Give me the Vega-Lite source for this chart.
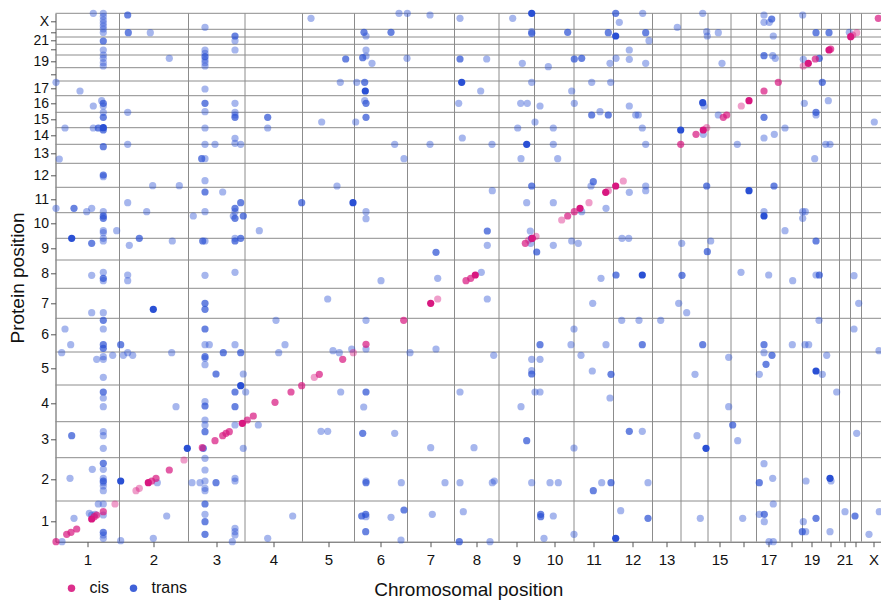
{
"$schema": "https://vega.github.io/schema/vega-lite/v6.json",
"width": 825.5,
"height": 528.4,
"autosize": {"type": "none"},
"padding": {"left": 55.5, "top": 13.3, "right": 0, "bottom": 58.3},
"config": {
  "font": "Liberation Sans",
  "view": {"stroke": null},
  "axis": {"grid": false, "domainColor": "#555", "tickColor": "#555", "tickSize": 5, "labelFontSize": 15, "labelColor": "#111", "titleFontSize": 19, "titleFontWeight": "normal", "titleColor": "#111", "labelOverlap": false, "labelFlush": false, "labelBound": false}
},
"datasets": {
  "xbounds": [{"snp":64},{"snp":133},{"snp":189.5},{"snp":247},{"snp":299},{"snp":352},{"snp":399},{"snp":443.5},{"snp":479},{"snp":518.5},{"snp":558},{"snp":597},{"snp":625.5},{"snp":652.5},{"snp":675.5},{"snp":701},{"snp":724.5},{"snp":747},{"snp":766},{"snp":784},{"snp":795},{"snp":806}],
  "ybounds": [{"prot":40.7},{"prot":84},{"prot":120},{"prot":156.7},{"prot":189.7},{"prot":223.4},{"prot":253.4},{"prot":281.7},{"prot":303.4},{"prot":329},{"prot":354.4},{"prot":378.4},{"prot":397.4},{"prot":414},{"prot":429.4},{"prot":446},{"prot":460.7},{"prot":474},{"prot":486.7},{"prot":497.4},{"prot":504.7},{"prot":512.4},{"prot":528.4}],
  "qtl": [
{"snp":37.8,"prot":528.4,"type":"trans","lod":1},{"snp":47.8,"prot":528.4,"type":"trans","lod":1},{"snp":47.8,"prot":525.2,"type":"trans","lod":1},{"snp":47.8,"prot":521.7,"type":"trans","lod":1},{"snp":47.8,"prot":518.7,"type":"trans","lod":1},{"snp":47.8,"prot":515.7,"type":"trans","lod":1},{"snp":47.8,"prot":512.7,"type":"trans","lod":1},{"snp":47.8,"prot":509.2,"type":"trans","lod":1},{"snp":47.8,"prot":500.7,"type":"trans","lod":2},{"snp":47.8,"prot":491.7,"type":"trans","lod":1},{"snp":47.8,"prot":486.7,"type":"trans","lod":1},{"snp":47.8,"prot":483.4,"type":"trans","lod":1},{"snp":47.8,"prot":479,"type":"trans","lod":1},{"snp":47.8,"prot":475.7,"type":"trans","lod":1},
{"snp":72.2,"prot":526.7,"type":"trans","lod":2},{"snp":72.8,"prot":509,"type":"trans","lod":2},{"snp":94.8,"prot":509,"type":"trans","lod":1},{"snp":113.8,"prot":483.4,"type":"trans","lod":1},{"snp":149.5,"prot":514.4,"type":"trans","lod":1},
{"snp":149.5,"prot":491.7,"type":"trans","lod":1},{"snp":149.5,"prot":488.4,"type":"trans","lod":1},{"snp":149.5,"prot":485,"type":"trans","lod":2},{"snp":149.5,"prot":481.7,"type":"trans","lod":1},{"snp":149.5,"prot":479,"type":"trans","lod":1},{"snp":149.5,"prot":475.7,"type":"trans","lod":1},
{"snp":179.5,"prot":505.7,"type":"trans","lod":2},{"snp":179.5,"prot":501,"type":"trans","lod":1},{"snp":179.5,"prot":491.7,"type":"trans","lod":1},
{"snp":0.5,"prot":459.4,"type":"trans","lod":1},{"snp":24.5,"prot":450.7,"type":"trans","lod":1},{"snp":37.8,"prot":435.7,"type":"trans","lod":1},{"snp":46.2,"prot":441,"type":"trans","lod":1},
{"snp":47.8,"prot":438.4,"type":"trans","lod":2},{"snp":47.8,"prot":435.7,"type":"trans","lod":1},{"snp":47.8,"prot":429.4,"type":"trans","lod":1},{"snp":47.8,"prot":424.4,"type":"trans","lod":2},{"snp":47.8,"prot":414,"type":"trans","lod":3},{"snp":47.8,"prot":411.7,"type":"trans","lod":2},{"snp":47.8,"prot":395,"type":"trans","lod":2},{"snp":47.8,"prot":366.7,"type":"trans","lod":2},{"snp":47.8,"prot":365,"type":"trans","lod":1},
{"snp":9.5,"prot":413.7,"type":"trans","lod":1},{"snp":37.8,"prot":413.7,"type":"trans","lod":1},{"snp":42.8,"prot":413.7,"type":"trans","lod":2},{"snp":72.2,"prot":429.4,"type":"trans","lod":1},{"snp":72.2,"prot":397.4,"type":"trans","lod":1},
{"snp":149.5,"prot":452.7,"type":"trans","lod":1},{"snp":149.5,"prot":438.4,"type":"trans","lod":2},{"snp":149.5,"prot":430,"type":"trans","lod":1},{"snp":149.5,"prot":413.7,"type":"trans","lod":1},{"snp":149.5,"prot":397.4,"type":"trans","lod":1},{"snp":159.5,"prot":397.4,"type":"trans","lod":1},{"snp":146.2,"prot":383,"type":"trans","lod":2},{"snp":149.5,"prot":383,"type":"trans","lod":1},{"snp":149.5,"prot":361,"type":"trans","lod":1},{"snp":149.5,"prot":349.7,"type":"trans","lod":2},{"snp":167.2,"prot":349.7,"type":"trans","lod":1},
{"snp":179.5,"prot":438.4,"type":"trans","lod":1},{"snp":179.5,"prot":429.4,"type":"trans","lod":1},{"snp":179.5,"prot":426.7,"type":"trans","lod":1},{"snp":179.5,"prot":424.4,"type":"trans","lod":2},{"snp":179.5,"prot":403.4,"type":"trans","lod":1},{"snp":179.5,"prot":398.4,"type":"trans","lod":1},{"snp":185.2,"prot":397.4,"type":"trans","lod":1},
{"snp":212.2,"prot":424.4,"type":"trans","lod":2},{"snp":212.2,"prot":413.7,"type":"trans","lod":1},{"snp":3.8,"prot":382.7,"type":"trans","lod":1},{"snp":97.2,"prot":356,"type":"trans","lod":1},{"snp":123.8,"prot":356,"type":"trans","lod":1},
{"snp":255.5,"prot":523.4,"type":"trans","lod":1},{"snp":308.5,"prot":509.4,"type":"trans","lod":2},{"snp":310.5,"prot":505.7,"type":"trans","lod":1},{"snp":335.5,"prot":509.4,"type":"trans","lod":2},{"snp":310.5,"prot":491.7,"type":"trans","lod":1},{"snp":307.2,"prot":484,"type":"trans","lod":2},{"snp":310.5,"prot":485.7,"type":"trans","lod":1},{"snp":316.5,"prot":478.4,"type":"trans","lod":1},{"snp":290.2,"prot":482.7,"type":"trans","lod":2},{"snp":343.5,"prot":528.4,"type":"trans","lod":1},{"snp":351.8,"prot":528.4,"type":"trans","lod":1},{"snp":374.5,"prot":526.7,"type":"trans","lod":1},{"snp":351.5,"prot":483.4,"type":"trans","lod":1},{"snp":284.8,"prot":459.4,"type":"trans","lod":1},{"snp":301.2,"prot":459.4,"type":"trans","lod":1},{"snp":309.2,"prot":459.4,"type":"trans","lod":2},{"snp":309.8,"prot":450.7,"type":"trans","lod":3},{"snp":309.2,"prot":441,"type":"trans","lod":1},{"snp":310.5,"prot":438.4,"type":"trans","lod":2},{"snp":310.5,"prot":424.4,"type":"trans","lod":2},{"snp":266.2,"prot":419.7,"type":"trans","lod":1},{"snp":300.2,"prot":419.7,"type":"trans","lod":1},{"snp":339.2,"prot":397.4,"type":"trans","lod":1},{"snp":374.5,"prot":397.4,"type":"trans","lod":1},{"snp":348.5,"prot":383,"type":"trans","lod":1},{"snp":404.5,"prot":523.4,"type":"trans","lod":1},{"snp":404.5,"prot":482.7,"type":"trans","lod":2},{"snp":406.2,"prot":459.4,"type":"trans","lod":3},{"snp":425.2,"prot":450.7,"type":"trans","lod":1},{"snp":403.2,"prot":438.4,"type":"trans","lod":1},{"snp":406.8,"prot":403.7,"type":"trans","lod":1},{"snp":436.5,"prot":397.4,"type":"trans","lod":1},{"snp":431.2,"prot":482.7,"type":"trans","lod":1},{"snp":457.2,"prot":523.4,"type":"trans","lod":1},{"snp":476.2,"prot":528.4,"type":"trans","lod":3},{"snp":476.2,"prot":510,"type":"trans","lod":1},{"snp":476.2,"prot":508.4,"type":"trans","lod":2},{"snp":512.2,"prot":509.4,"type":"trans","lod":2},{"snp":466.8,"prot":478.4,"type":"trans","lod":1},{"snp":492.8,"prot":475,"type":"trans","lod":1},{"snp":518.8,"prot":482.7,"type":"trans","lod":2},{"snp":476.2,"prot":459.4,"type":"trans","lod":1},{"snp":516.2,"prot":450.7,"type":"trans","lod":1},{"snp":465.2,"prot":438.4,"type":"trans","lod":1},{"snp":471.8,"prot":438.4,"type":"trans","lod":1},{"snp":484.5,"prot":435.7,"type":"trans","lod":1},{"snp":518.8,"prot":438.4,"type":"trans","lod":1},{"snp":462.2,"prot":413.7,"type":"trans","lod":1},{"snp":479.5,"prot":419.7,"type":"trans","lod":1},{"snp":497.8,"prot":413.7,"type":"trans","lod":1},{"snp":471.2,"prot":397.4,"type":"trans","lod":3},{"snp":497.8,"prot":397.4,"type":"trans","lod":1},{"snp":465.5,"prot":383,"type":"trans","lod":1},{"snp":502.2,"prot":383,"type":"trans","lod":1},
{"snp":560.2,"prot":528.4,"type":"trans","lod":2},{"snp":587.2,"prot":528.4,"type":"trans","lod":1},{"snp":647.2,"prot":528.4,"type":"trans","lod":1},{"snp":708.5,"prot":526.7,"type":"trans","lod":1},{"snp":747.2,"prot":526.7,"type":"trans","lod":1},{"snp":563.8,"prot":519.4,"type":"trans","lod":1},{"snp":621.8,"prot":514.4,"type":"trans","lod":1},{"snp":708.5,"prot":519.4,"type":"trans","lod":1},{"snp":713.8,"prot":519.4,"type":"trans","lod":1},{"snp":716.2,"prot":522.7,"type":"trans","lod":2},{"snp":552.8,"prot":509,"type":"trans","lod":2},{"snp":560.2,"prot":505.7,"type":"trans","lod":3},{"snp":590.2,"prot":509,"type":"trans","lod":2},{"snp":593.5,"prot":501,"type":"trans","lod":1},{"snp":651.2,"prot":510,"type":"trans","lod":1},{"snp":651.8,"prot":505.7,"type":"trans","lod":1},{"snp":662.8,"prot":509,"type":"trans","lod":1},{"snp":717.8,"prot":505.7,"type":"trans","lod":1},{"snp":760.5,"prot":509,"type":"trans","lod":2},{"snp":773.5,"prot":509,"type":"trans","lod":2},{"snp":793.8,"prot":509.4,"type":"trans","lod":1},{"snp":573.8,"prot":491.7,"type":"trans","lod":1},{"snp":526.2,"prot":483.4,"type":"trans","lod":2},{"snp":554.5,"prot":478.4,"type":"trans","lod":1},{"snp":560.5,"prot":483.4,"type":"trans","lod":1},{"snp":573.8,"prot":482.4,"type":"trans","lod":1},{"snp":590.2,"prot":478.4,"type":"trans","lod":1},{"snp":666.5,"prot":478.4,"type":"trans","lod":1},{"snp":708.5,"prot":486,"type":"trans","lod":2},{"snp":717.2,"prot":486,"type":"trans","lod":1},{"snp":719.8,"prot":483.4,"type":"trans","lod":1},{"snp":747.8,"prot":482.4,"type":"trans","lod":1},{"snp":763.8,"prot":483.4,"type":"trans","lod":2},{"snp":536.2,"prot":459.4,"type":"trans","lod":1},{"snp":555.2,"prot":459.4,"type":"trans","lod":1},{"snp":766.8,"prot":459.4,"type":"trans","lod":2},{"snp":573.8,"prot":435.7,"type":"trans","lod":1},{"snp":536.2,"prot":426.7,"type":"trans","lod":2},{"snp":544.5,"prot":430,"type":"trans","lod":1},{"snp":552.8,"prot":426.7,"type":"trans","lod":2},{"snp":580.2,"prot":426.7,"type":"trans","lod":1},{"snp":582.8,"prot":426.7,"type":"trans","lod":1},{"snp":647.2,"prot":439,"type":"trans","lod":3},{"snp":648.5,"prot":435.7,"type":"trans","lod":1},{"snp":662.8,"prot":426.7,"type":"trans","lod":1},{"snp":708.5,"prot":424.4,"type":"trans","lod":2},{"snp":748.8,"prot":438.4,"type":"trans","lod":1},{"snp":760.5,"prot":429.4,"type":"trans","lod":2},{"snp":760.5,"prot":426.7,"type":"trans","lod":1},{"snp":772.8,"prot":441,"type":"trans","lod":1},{"snp":586.8,"prot":413.7,"type":"trans","lod":1},{"snp":625.2,"prot":411.7,"type":"trans","lod":3},{"snp":647.8,"prot":407.4,"type":"trans","lod":1},{"snp":708.5,"prot":403.7,"type":"trans","lod":1},{"snp":718.8,"prot":407.4,"type":"trans","lod":1},{"snp":729.5,"prot":413.7,"type":"trans","lod":1},{"snp":590.2,"prot":397.4,"type":"trans","lod":1},{"snp":681.8,"prot":397.4,"type":"trans","lod":1},{"snp":770.2,"prot":397.4,"type":"trans","lod":1},{"snp":774.5,"prot":397.4,"type":"trans","lod":1},{"snp":759.2,"prot":383,"type":"trans","lod":1},{"snp":818.8,"prot":419.7,"type":"trans","lod":1},
{"snp":537.8,"prot":360,"type":"trans","lod":2},{"snp":535.5,"prot":355.7,"type":"trans","lod":1},{"snp":573.8,"prot":349.4,"type":"trans","lod":1},{"snp":590.2,"prot":355.7,"type":"trans","lod":1},{"snp":590.2,"prot":351,"type":"trans","lod":1},{"snp":651.2,"prot":355.7,"type":"trans","lod":2},{"snp":693.5,"prot":351,"type":"trans","lod":3},{"snp":718.5,"prot":355.7,"type":"trans","lod":2},{"snp":526.2,"prot":330,"type":"trans","lod":1},{"snp":550.5,"prot":333.4,"type":"trans","lod":1},{"snp":708.5,"prot":330,"type":"trans","lod":1},{"snp":708.5,"prot":325.7,"type":"trans","lod":3},{"snp":747.2,"prot":330,"type":"trans","lod":1},{"snp":749.8,"prot":330,"type":"trans","lod":1},{"snp":747.2,"prot":323.4,"type":"trans","lod":1},{"snp":729.5,"prot":311,"type":"trans","lod":1},{"snp":566.5,"prot":303.4,"type":"trans","lod":1},{"snp":573.2,"prot":303.4,"type":"trans","lod":1},{"snp":626.2,"prot":298.4,"type":"trans","lod":1},{"snp":655.2,"prot":300.7,"type":"trans","lod":1},{"snp":651.8,"prot":290,"type":"trans","lod":2},{"snp":760.5,"prot":300.7,"type":"trans","lod":2},{"snp":545.5,"prot":263.4,"type":"trans","lod":1},{"snp":560.5,"prot":266.7,"type":"trans","lod":2},{"snp":586.8,"prot":266.7,"type":"trans","lod":3},{"snp":626.5,"prot":266.4,"type":"trans","lod":2},{"snp":685.5,"prot":269.4,"type":"trans","lod":1},{"snp":713.2,"prot":266.7,"type":"trans","lod":1},{"snp":737.2,"prot":261,"type":"trans","lod":1},{"snp":760.5,"prot":266.7,"type":"trans","lod":1},{"snp":763.8,"prot":266.7,"type":"trans","lod":2},{"snp":798.5,"prot":266,"type":"trans","lod":1},{"snp":537.2,"prot":238.4,"type":"trans","lod":1},{"snp":623.2,"prot":238.4,"type":"trans","lod":1},{"snp":631.2,"prot":229,"type":"trans","lod":1},{"snp":803.2,"prot":238.4,"type":"trans","lod":1},{"snp":566.2,"prot":221.4,"type":"trans","lod":1},{"snp":583.5,"prot":221.4,"type":"trans","lod":1},{"snp":605.2,"prot":221.4,"type":"trans","lod":1},{"snp":763.5,"prot":221.4,"type":"trans","lod":1},{"snp":798.5,"prot":212.7,"type":"trans","lod":1},{"snp":550.5,"prot":197,"type":"trans","lod":1},{"snp":586.8,"prot":197,"type":"trans","lod":2},{"snp":647.2,"prot":197,"type":"trans","lod":2},{"snp":708.5,"prot":197,"type":"trans","lod":2},{"snp":708.5,"prot":189,"type":"trans","lod":1},{"snp":736.8,"prot":197,"type":"trans","lod":1},{"snp":749.5,"prot":197,"type":"trans","lod":1},{"snp":753.2,"prot":197,"type":"trans","lod":1},{"snp":716.5,"prot":186.4,"type":"trans","lod":2},{"snp":771.2,"prot":186.4,"type":"trans","lod":1},{"snp":823.5,"prot":191,"type":"trans","lod":1},{"snp":525.5,"prot":186.4,"type":"trans","lod":1},{"snp":673.2,"prot":184.4,"type":"trans","lod":1},{"snp":536.8,"prot":170.7,"type":"trans","lod":1},{"snp":555.5,"prot":167.4,"type":"trans","lod":2},{"snp":639.5,"prot":167.4,"type":"trans","lod":1},{"snp":710.5,"prot":177.4,"type":"trans","lod":2},{"snp":703.8,"prot":167.4,"type":"trans","lod":1},{"snp":760.5,"prot":170.7,"type":"trans","lod":3},{"snp":766.8,"prot":167.4,"type":"trans","lod":1},{"snp":554.5,"prot":143.7,"type":"trans","lod":1},{"snp":781.2,"prot":149.7,"type":"trans","lod":1},{"snp":673.2,"prot":135,"type":"trans","lod":1},{"snp":573.8,"prot":110.4,"type":"trans","lod":2},{"snp":586.8,"prot":110.4,"type":"trans","lod":1},{"snp":677.2,"prot":116.7,"type":"trans","lod":2},{"snp":641.5,"prot":106,"type":"trans","lod":1},{"snp":682.2,"prot":101,"type":"trans","lod":1},{"snp":650.5,"prot":93.4,"type":"trans","lod":3},{"snp":801.2,"prot":108.4,"type":"trans","lod":1},{"snp":708.5,"prot":78,"type":"trans","lod":1},{"snp":717.2,"prot":63.4,"type":"trans","lod":1},{"snp":546.2,"prot":59,"type":"trans","lod":1},{"snp":555.5,"prot":59,"type":"trans","lod":2},{"snp":592.5,"prot":59,"type":"trans","lod":1},{"snp":703.8,"prot":59,"type":"trans","lod":2},{"snp":750.5,"prot":60.7,"type":"trans","lod":1},{"snp":774.5,"prot":63.4,"type":"trans","lod":3},{"snp":775.5,"prot":60.7,"type":"trans","lod":1},{"snp":537.8,"prot":51,"type":"trans","lod":2},
{"snp":281.5,"prot":355.7,"type":"trans","lod":1},{"snp":436.8,"prot":351,"type":"trans","lod":1},{"snp":476.2,"prot":355.7,"type":"trans","lod":2},{"snp":246.2,"prot":339,"type":"trans","lod":2},{"snp":297.5,"prot":339,"type":"trans","lod":3},{"snp":310.5,"prot":330,"type":"trans","lod":1},{"snp":310.5,"prot":323,"type":"trans","lod":1},{"snp":431.8,"prot":310.7,"type":"trans","lod":2},{"snp":471.2,"prot":339,"type":"trans","lod":1},{"snp":497.8,"prot":339,"type":"trans","lod":1},{"snp":474.8,"prot":310.7,"type":"trans","lod":1},{"snp":431.8,"prot":296.4,"type":"trans","lod":1},{"snp":497.8,"prot":296.4,"type":"trans","lod":1},{"snp":516.2,"prot":300.7,"type":"trans","lod":1},{"snp":522.8,"prot":298.4,"type":"trans","lod":1},{"snp":481.2,"prot":289.7,"type":"trans","lod":2},{"snp":380.5,"prot":289.4,"type":"trans","lod":2},{"snp":476.2,"prot":303.4,"type":"trans","lod":3},{"snp":475.2,"prot":298.4,"type":"trans","lod":1},{"snp":325.5,"prot":261,"type":"trans","lod":1},{"snp":382.2,"prot":263.4,"type":"trans","lod":1},{"snp":425.8,"prot":269.4,"type":"trans","lod":1},{"snp":272.2,"prot":242.7,"type":"trans","lod":1},{"snp":431.8,"prot":242.7,"type":"trans","lod":1},{"snp":310.5,"prot":221.4,"type":"trans","lod":1},{"snp":518.5,"prot":212.7,"type":"trans","lod":1},{"snp":277.5,"prot":191,"type":"trans","lod":1},{"snp":283.8,"prot":189,"type":"trans","lod":1},{"snp":296.2,"prot":192.7,"type":"trans","lod":1},{"snp":310.5,"prot":192.7,"type":"trans","lod":1},{"snp":354.5,"prot":189,"type":"trans","lod":1},{"snp":380.5,"prot":192.7,"type":"trans","lod":1},{"snp":438.2,"prot":186.4,"type":"trans","lod":1},{"snp":484.5,"prot":197,"type":"trans","lod":2},{"snp":484.5,"prot":182.4,"type":"trans","lod":1},{"snp":476.2,"prot":182.4,"type":"trans","lod":1},{"snp":476.2,"prot":171,"type":"trans","lod":1},{"snp":476.2,"prot":167.7,"type":"trans","lod":2},{"snp":515.5,"prot":197,"type":"trans","lod":1},{"snp":285.2,"prot":149.7,"type":"trans","lod":1},{"snp":310.5,"prot":149.7,"type":"trans","lod":2},{"snp":308.2,"prot":134.7,"type":"trans","lod":1},{"snp":404.5,"prot":149.7,"type":"trans","lod":1},{"snp":479.5,"prot":149.7,"type":"trans","lod":1},{"snp":484.5,"prot":149.7,"type":"trans","lod":1},{"snp":465.5,"prot":135,"type":"trans","lod":1},{"snp":265.5,"prot":110.4,"type":"trans","lod":1},{"snp":272.2,"prot":110.4,"type":"trans","lod":1},{"snp":307.2,"prot":108.4,"type":"trans","lod":2},{"snp":339.2,"prot":108.4,"type":"trans","lod":1},{"snp":375.2,"prot":94,"type":"trans","lod":1},{"snp":418.5,"prot":94,"type":"trans","lod":1},{"snp":471.2,"prot":101,"type":"trans","lod":2},{"snp":518.5,"prot":93.7,"type":"trans","lod":1},{"snp":310.5,"prot":60.7,"type":"trans","lod":1},{"snp":310.5,"prot":59,"type":"trans","lod":2},{"snp":345.8,"prot":59,"type":"trans","lod":1},{"snp":389.5,"prot":59,"type":"trans","lod":1},{"snp":404.5,"prot":59,"type":"trans","lod":1},{"snp":436.8,"prot":59,"type":"trans","lod":1},{"snp":438.8,"prot":60.7,"type":"trans","lod":1},{"snp":476.2,"prot":59,"type":"trans","lod":1},{"snp":494.5,"prot":59,"type":"trans","lod":1},{"snp":502.8,"prot":59,"type":"trans","lod":1},
{"snp":0.5,"prot":333.4,"type":"trans","lod":1},{"snp":18.5,"prot":333.4,"type":"trans","lod":2},{"snp":31.2,"prot":330,"type":"trans","lod":1},{"snp":36.2,"prot":333.4,"type":"trans","lod":1},{"snp":47.8,"prot":330,"type":"trans","lod":1},{"snp":47.8,"prot":325.7,"type":"trans","lod":2},{"snp":47.8,"prot":323.4,"type":"trans","lod":2},{"snp":72.2,"prot":339,"type":"trans","lod":1},{"snp":91.2,"prot":330,"type":"trans","lod":1},{"snp":149.5,"prot":330,"type":"trans","lod":1},{"snp":137.8,"prot":325.7,"type":"trans","lod":1},{"snp":177.8,"prot":325.7,"type":"trans","lod":1},{"snp":179.5,"prot":333.4,"type":"trans","lod":2},{"snp":179.5,"prot":330,"type":"trans","lod":1},{"snp":179.5,"prot":323.4,"type":"trans","lod":2},{"snp":185.2,"prot":339,"type":"trans","lod":2},{"snp":187.8,"prot":325.7,"type":"trans","lod":2},{"snp":47.8,"prot":311,"type":"trans","lod":1},{"snp":47.8,"prot":309,"type":"trans","lod":1},{"snp":61.2,"prot":311,"type":"trans","lod":1},{"snp":47.8,"prot":303.4,"type":"trans","lod":1},{"snp":47.8,"prot":300.7,"type":"trans","lod":1},{"snp":16.2,"prot":303.4,"type":"trans","lod":3},{"snp":36.2,"prot":298.4,"type":"trans","lod":2},{"snp":73.8,"prot":296.4,"type":"trans","lod":1},{"snp":83.8,"prot":303.4,"type":"trans","lod":2},{"snp":116.8,"prot":300.7,"type":"trans","lod":1},{"snp":147.2,"prot":300.7,"type":"trans","lod":2},{"snp":149.5,"prot":300.7,"type":"trans","lod":1},{"snp":179.5,"prot":303.4,"type":"trans","lod":1},{"snp":179.5,"prot":300.7,"type":"trans","lod":2},{"snp":185.2,"prot":303.4,"type":"trans","lod":2},{"snp":203.8,"prot":311,"type":"trans","lod":1},{"snp":36.2,"prot":266.4,"type":"trans","lod":1},{"snp":47.8,"prot":269.4,"type":"trans","lod":1},{"snp":47.8,"prot":263.4,"type":"trans","lod":2},{"snp":47.8,"prot":261,"type":"trans","lod":1},{"snp":72.2,"prot":266.7,"type":"trans","lod":1},{"snp":72.2,"prot":261,"type":"trans","lod":1},{"snp":149.5,"prot":266.4,"type":"trans","lod":1},{"snp":179.5,"prot":269.4,"type":"trans","lod":1},{"snp":36.2,"prot":229,"type":"trans","lod":1},{"snp":47.8,"prot":229,"type":"trans","lod":1},{"snp":97.8,"prot":232.4,"type":"trans","lod":3},{"snp":149.5,"prot":238.4,"type":"trans","lod":2},{"snp":149.5,"prot":232.4,"type":"trans","lod":2},{"snp":9.5,"prot":212.7,"type":"trans","lod":1},{"snp":47.8,"prot":221.4,"type":"trans","lod":2},{"snp":47.8,"prot":212.7,"type":"trans","lod":1},{"snp":149.5,"prot":212.7,"type":"trans","lod":2},{"snp":220.5,"prot":221.4,"type":"trans","lod":1},{"snp":15.2,"prot":197,"type":"trans","lod":1},{"snp":6.2,"prot":189,"type":"trans","lod":1},{"snp":41.2,"prot":182.4,"type":"trans","lod":1},{"snp":47.8,"prot":197,"type":"trans","lod":2},{"snp":47.8,"prot":193.4,"type":"trans","lod":2},{"snp":47.8,"prot":185,"type":"trans","lod":1},{"snp":47.8,"prot":182.4,"type":"trans","lod":1},{"snp":57.2,"prot":186.4,"type":"trans","lod":1},{"snp":65.2,"prot":197,"type":"trans","lod":2},{"snp":67.8,"prot":186.4,"type":"trans","lod":1},{"snp":72.2,"prot":189,"type":"trans","lod":1},{"snp":77.2,"prot":186.4,"type":"trans","lod":1},{"snp":116.2,"prot":189,"type":"trans","lod":1},{"snp":149.5,"prot":197,"type":"trans","lod":1},{"snp":153.8,"prot":197,"type":"trans","lod":1},{"snp":149.5,"prot":185,"type":"trans","lod":2},{"snp":149.5,"prot":183.4,"type":"trans","lod":1},{"snp":149.5,"prot":177,"type":"trans","lod":1},{"snp":167.8,"prot":189,"type":"trans","lod":2},{"snp":179.5,"prot":197,"type":"trans","lod":1},{"snp":185.2,"prot":189,"type":"trans","lod":2},{"snp":160.5,"prot":167.7,"type":"trans","lod":2},{"snp":187.8,"prot":167.7,"type":"trans","lod":1},{"snp":223.2,"prot":189,"type":"trans","lod":1},{"snp":229.5,"prot":197,"type":"trans","lod":1},{"snp":47.8,"prot":164.4,"type":"trans","lod":1},{"snp":47.8,"prot":149.7,"type":"trans","lod":2},{"snp":47.8,"prot":143.7,"type":"trans","lod":1},{"snp":47.8,"prot":135,"type":"trans","lod":1},{"snp":185.2,"prot":156,"type":"trans","lod":3},{"snp":179.5,"prot":149.7,"type":"trans","lod":2},{"snp":190.2,"prot":149.7,"type":"trans","lod":1},{"snp":179.5,"prot":135,"type":"trans","lod":2},{"snp":120.5,"prot":135,"type":"trans","lod":1},{"snp":149.5,"prot":140,"type":"trans","lod":1},{"snp":149.5,"prot":135.7,"type":"trans","lod":2},{"snp":149.5,"prot":121.7,"type":"trans","lod":1},{"snp":47.8,"prot":110,"type":"trans","lod":1},{"snp":47.8,"prot":106,"type":"trans","lod":1},{"snp":47.8,"prot":93.4,"type":"trans","lod":1},{"snp":16.2,"prot":106,"type":"trans","lod":2},{"snp":149.5,"prot":116.7,"type":"trans","lod":1},{"snp":149.5,"prot":110,"type":"trans","lod":2},{"snp":179.5,"prot":116.7,"type":"trans","lod":1},{"snp":202.8,"prot":116.7,"type":"trans","lod":1},{"snp":131.8,"prot":93.4,"type":"trans","lod":3},{"snp":147.8,"prot":93.4,"type":"trans","lod":2},{"snp":187.8,"prot":93.4,"type":"trans","lod":1},{"snp":149.5,"prot":83.4,"type":"trans","lod":1},{"snp":47.8,"prot":78.4,"type":"trans","lod":2},{"snp":47.8,"prot":72.4,"type":"trans","lod":1},{"snp":47.8,"prot":63.4,"type":"trans","lod":1},{"snp":47.8,"prot":60.7,"type":"trans","lod":2},{"snp":47.8,"prot":59,"type":"trans","lod":1},{"snp":47.8,"prot":55.7,"type":"trans","lod":1},{"snp":47.8,"prot":51,"type":"trans","lod":1},{"snp":36.8,"prot":72.4,"type":"trans","lod":1},{"snp":14.5,"prot":63.4,"type":"trans","lod":1},{"snp":65.2,"prot":60.7,"type":"trans","lod":3},{"snp":101.8,"prot":59,"type":"trans","lod":1},{"snp":136.5,"prot":59,"type":"trans","lod":1},{"snp":144.5,"prot":59,"type":"trans","lod":1},{"snp":149.5,"prot":71.7,"type":"trans","lod":1},{"snp":149.5,"prot":60.7,"type":"trans","lod":1},{"snp":149.5,"prot":53.4,"type":"trans","lod":1},{"snp":149.5,"prot":51,"type":"trans","lod":1},{"snp":160.5,"prot":59,"type":"trans","lod":2},{"snp":179.5,"prot":63.4,"type":"trans","lod":1},{"snp":179.5,"prot":60.7,"type":"trans","lod":1},
{"snp":6.5,"prot":0,"type":"trans","lod":1},{"snp":18.5,"prot":23.4,"type":"trans","lod":1},{"snp":33.8,"prot":28.4,"type":"trans","lod":1},{"snp":36.2,"prot":26.7,"type":"trans","lod":1},{"snp":39.5,"prot":27.4,"type":"trans","lod":1},{"snp":47.8,"prot":37.7,"type":"trans","lod":1},{"snp":42.8,"prot":37.7,"type":"trans","lod":1},{"snp":47.8,"prot":26.7,"type":"trans","lod":1},{"snp":47.8,"prot":9.4,"type":"trans","lod":2},{"snp":47.8,"prot":6.7,"type":"trans","lod":1},{"snp":47.8,"prot":3.4,"type":"trans","lod":1},{"snp":65.2,"prot":1,"type":"trans","lod":1},{"snp":97.8,"prot":3.4,"type":"trans","lod":1},{"snp":111.2,"prot":25.7,"type":"trans","lod":1},{"snp":149.5,"prot":37.7,"type":"trans","lod":2},{"snp":149.5,"prot":27.4,"type":"trans","lod":1},{"snp":149.5,"prot":20,"type":"trans","lod":2},{"snp":149.5,"prot":7.4,"type":"trans","lod":2},{"snp":176.8,"prot":0,"type":"trans","lod":1},{"snp":179.5,"prot":13.4,"type":"trans","lod":1},{"snp":179.5,"prot":10,"type":"trans","lod":1},{"snp":179.5,"prot":6.7,"type":"trans","lod":1},{"snp":212.2,"prot":3.4,"type":"trans","lod":1},{"snp":237.2,"prot":25.7,"type":"trans","lod":1},{"snp":306.2,"prot":25.7,"type":"trans","lod":2},{"snp":310.2,"prot":27.4,"type":"trans","lod":2},{"snp":310.5,"prot":25,"type":"trans","lod":1},{"snp":310.2,"prot":10,"type":"trans","lod":2},{"snp":335.5,"prot":24.4,"type":"trans","lod":1},{"snp":345.5,"prot":1.7,"type":"trans","lod":1},{"snp":348.5,"prot":31.7,"type":"trans","lod":2},{"snp":376.8,"prot":27.4,"type":"trans","lod":1},
{"snp":403.8,"prot":0,"type":"trans","lod":2},{"snp":407.8,"prot":30,"type":"trans","lod":1},{"snp":434.5,"prot":0,"type":"trans","lod":1},{"snp":485.2,"prot":27.4,"type":"trans","lod":2},{"snp":485.2,"prot":25,"type":"trans","lod":2},{"snp":488.5,"prot":3.4,"type":"trans","lod":1},{"snp":497.8,"prot":25.7,"type":"trans","lod":1},{"snp":518.5,"prot":7.4,"type":"trans","lod":1},{"snp":560.2,"prot":3.4,"type":"trans","lod":3},{"snp":565.2,"prot":31,"type":"trans","lod":1},{"snp":592.5,"prot":23.4,"type":"trans","lod":2},{"snp":644.8,"prot":23.4,"type":"trans","lod":1},{"snp":687.2,"prot":23.4,"type":"trans","lod":1},{"snp":703.8,"prot":27.4,"type":"trans","lod":1},{"snp":708.8,"prot":27.4,"type":"trans","lod":2},{"snp":708.8,"prot":20,"type":"trans","lod":1},{"snp":713.5,"prot":0,"type":"trans","lod":1},{"snp":717.8,"prot":0,"type":"trans","lod":1},{"snp":717.8,"prot":37.7,"type":"trans","lod":1},{"snp":747.8,"prot":20,"type":"trans","lod":1},{"snp":746.8,"prot":10,"type":"trans","lod":2},{"snp":750.2,"prot":10,"type":"trans","lod":1},{"snp":760.5,"prot":23.4,"type":"trans","lod":2},{"snp":774.5,"prot":10,"type":"trans","lod":1},{"snp":789.5,"prot":30,"type":"trans","lod":1},{"snp":799.5,"prot":25.7,"type":"trans","lod":2},{"snp":813.5,"prot":7.4,"type":"trans","lod":1},{"snp":823.8,"prot":30,"type":"trans","lod":1},
{"snp":0.5,"prot":0,"type":"cis","lod":2},{"snp":11.2,"prot":7.4,"type":"cis","lod":2},{"snp":15.5,"prot":9.4,"type":"cis","lod":2},{"snp":21.2,"prot":12.7,"type":"cis","lod":2},{"snp":36.2,"prot":22.7,"type":"cis","lod":3},{"snp":38.8,"prot":25,"type":"cis","lod":2},{"snp":41.2,"prot":26.7,"type":"cis","lod":2},{"snp":47.8,"prot":30,"type":"cis","lod":2},{"snp":59.5,"prot":37.7,"type":"cis","lod":1},
{"snp":80.5,"prot":51,"type":"cis","lod":1},{"snp":83.8,"prot":53.4,"type":"cis","lod":1},{"snp":92.8,"prot":59,"type":"cis","lod":3},{"snp":96.2,"prot":60.7,"type":"cis","lod":2},{"snp":100.5,"prot":63.4,"type":"cis","lod":2},{"snp":113.8,"prot":71.7,"type":"cis","lod":2},{"snp":128.5,"prot":81.7,"type":"cis","lod":1},{"snp":146.8,"prot":94,"type":"cis","lod":2},{"snp":159.5,"prot":101,"type":"cis","lod":2},{"snp":167.2,"prot":106,"type":"cis","lod":2},{"snp":170.5,"prot":108.4,"type":"cis","lod":2},{"snp":173.8,"prot":110,"type":"cis","lod":2},{"snp":186.8,"prot":118.4,"type":"cis","lod":3},{"snp":191.8,"prot":121.7,"type":"cis","lod":2},{"snp":197.8,"prot":125.7,"type":"cis","lod":2},{"snp":219.5,"prot":139.4,"type":"cis","lod":2},{"snp":235.5,"prot":149.7,"type":"cis","lod":2},
{"snp":246.2,"prot":156,"type":"cis","lod":2},{"snp":258.8,"prot":164.4,"type":"cis","lod":1},{"snp":263.8,"prot":167.4,"type":"cis","lod":2},{"snp":287.2,"prot":182.4,"type":"cis","lod":2},{"snp":297.8,"prot":189,"type":"cis","lod":1},{"snp":310.5,"prot":197.4,"type":"cis","lod":2},{"snp":348.2,"prot":221.4,"type":"cis","lod":2},{"snp":375.2,"prot":238.4,"type":"cis","lod":3},{"snp":382.2,"prot":242.7,"type":"cis","lod":1},{"snp":410.5,"prot":261,"type":"cis","lod":2},{"snp":415.2,"prot":263.4,"type":"cis","lod":2},{"snp":419.8,"prot":266.7,"type":"cis","lod":3},{"snp":469.8,"prot":298.4,"type":"cis","lod":2},{"snp":473.2,"prot":301.7,"type":"cis","lod":1},{"snp":476.8,"prot":303.4,"type":"cis","lod":3},{"snp":480.5,"prot":305.4,"type":"cis","lod":1},{"snp":506.2,"prot":321.7,"type":"cis","lod":1},{"snp":512.2,"prot":325.7,"type":"cis","lod":2},{"snp":518.8,"prot":330,"type":"cis","lod":2},
{"snp":524.5,"prot":333.4,"type":"cis","lod":3},{"snp":533.5,"prot":339,"type":"cis","lod":1},{"snp":550.2,"prot":349.4,"type":"cis","lod":3},{"snp":552.8,"prot":351,"type":"cis","lod":1},{"snp":560.2,"prot":355.7,"type":"cis","lod":3},{"snp":567.8,"prot":360.7,"type":"cis","lod":1},
{"snp":625.2,"prot":397.4,"type":"cis","lod":2},{"snp":640.5,"prot":407.4,"type":"cis","lod":2},{"snp":647.8,"prot":411.7,"type":"cis","lod":3},{"snp":651.2,"prot":414,"type":"cis","lod":1},{"snp":667.8,"prot":424.4,"type":"cis","lod":2},{"snp":671.2,"prot":426.7,"type":"cis","lod":2},{"snp":685.8,"prot":435.7,"type":"cis","lod":1},{"snp":693.5,"prot":441,"type":"cis","lod":3},{"snp":708.5,"prot":450.7,"type":"cis","lod":2},{"snp":722.8,"prot":459.4,"type":"cis","lod":2},{"snp":747.8,"prot":475.7,"type":"cis","lod":1},{"snp":752.8,"prot":478.4,"type":"cis","lod":3},{"snp":759.8,"prot":482.7,"type":"cis","lod":2},{"snp":773.5,"prot":491.7,"type":"cis","lod":3},{"snp":775.2,"prot":492.7,"type":"cis","lod":2},{"snp":795.2,"prot":505,"type":"cis","lod":3},{"snp":797.2,"prot":506.7,"type":"cis","lod":1},{"snp":801.2,"prot":509,"type":"cis","lod":1},{"snp":822.8,"prot":523.4,"type":"cis","lod":2}
  ]
},
"layer": [
  {"data": {"name": "xbounds"}, "mark": {"type": "rule", "color": "#8c8c8c", "strokeWidth": 1},
   "encoding": {"x": {"field": "snp", "type": "quantitative", "scale": {"domain": [0, 825.5], "nice": false, "zero": false}, "axis": {"tickCount": 100}}}},
  {"data": {"name": "ybounds"}, "mark": {"type": "rule", "color": "#8c8c8c", "strokeWidth": 1},
   "encoding": {"y": {"field": "prot", "type": "quantitative", "scale": {"domain": [0, 528.4], "nice": false, "zero": false}, "axis": {"tickCount": 100, "labelFontSize": 14}}}},
  {"data": {"name": "qtl"}, "mark": {"type": "circle", "size": 52},
   "encoding": {
     "x": {"field": "snp", "type": "quantitative", "scale": {"domain": [0, 825.5], "nice": false, "zero": false},
           "axis": {"title": "Chromosomal position", "titlePadding": 13, "labelPadding": 6, "tickCount": 100,
                    "values": [32,98,161,218,273,325,375,421,461,499,538,577,611,639,664,688,713,736,756,775,789,800,818],
                    "labelExpr": "['1','2','3','4','5','6','7','8','9','10','11','12','13','','15','','17','','19','','21','','X'][indexof([32,98,161,218,273,325,375,421,461,499,538,577,611,639,664,688,713,736,756,775,789,800,818], datum.value)]"}},
     "y": {"field": "prot", "type": "quantitative", "scale": {"domain": [0, 528.4], "nice": false, "zero": false},
           "axis": {"title": "Protein position", "titlePadding": 5, "labelPadding": 2, "tickCount": 100, "labelFontSize": 14,
                    "values": [20,62,102,138,173,207,238,268,293,318,342,366,388,406,422,438,453,467,480,492,501,509,520],
                    "labelExpr": "['1','2','3','4','5','6','7','8','9','10','11','12','13','14','15','16','17','','19','','21','','X'][indexof([20,62,102,138,173,207,238,268,293,318,342,366,388,406,422,438,453,467,480,492,501,509,520], datum.value)]"}},
     "color": {"field": "type", "type": "nominal", "scale": {"domain": ["cis", "trans"], "range": ["#d81880", "#2a50d4"]},
               "legend": {"title": null, "orient": "none", "legendX": 8, "legendY": 567, "direction": "horizontal", "labelFontSize": 16, "labelColor": "#111", "symbolType": "circle", "symbolSize": 55, "symbolOpacity": 0.9, "labelOffset": 10, "columnPadding": 16, "padding": 0}},
     "opacity": {"field": "lod", "type": "quantitative", "scale": {"domain": [1, 3], "range": [0.42, 1.0]}, "legend": null}
   }}
]
}
